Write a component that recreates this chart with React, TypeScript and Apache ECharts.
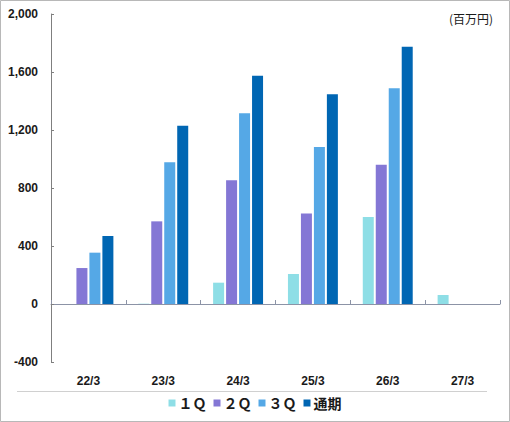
import React, { useEffect, useRef } from "react";
import * as echarts from "echarts";

const categories = ["22/3", "23/3", "24/3", "25/3", "26/3", "27/3"];
const q1 = [null, 2, 147, 207, 600, 62];
const q2 = [248, 570, 853, 625, 961, null];
const q3 = [354, 977, 1315, 1083, 1488, null];
const fullYear = [469, 1230, 1575, 1446, 1775, null];
const seriesNames = ["１Ｑ", "２Ｑ", "３Ｑ", "通期"];
const seriesColors = ["#8EDEE6", "#8477D5", "#55A8E6", "#0066B3"];
const unitLabel = "(百万円)";

export default function App() {
  const ref = useRef<HTMLDivElement>(null);
  useEffect(() => {
    document.body.style.margin = "0";
    const chart = echarts.init(ref.current!, null, { renderer: "svg" });
    const values = [q1, q2, q3, fullYear];
    chart.setOption({
      animation: false,
      backgroundColor: "#ffffff",
      textStyle: { fontFamily: "Liberation Sans, Arial, sans-serif" },
      grid: { left: 51, top: 14, right: 10, bottom: 60, containLabel: false },
      legend: {
        bottom: 7,
        left: "center",
        itemWidth: 7,
        itemHeight: 7,
        itemGap: 7,
        icon: "rect",
        textStyle: {
          fontSize: 14,
          fontWeight: "bold",
          color: "#1a1a1a",
          padding: [0, 0, 0, -2],
          fontFamily: "Noto Sans CJK JP, sans-serif",
        },
        data: seriesNames,
      },
      xAxis: [
        {
          type: "category",
          data: categories,
          axisLine: { onZero: true, lineStyle: { color: "#8C93A6", width: 1 } },
          axisTick: { show: true, inside: true, length: 4, lineStyle: { color: "#8C93A6" } },
          axisLabel: { show: false },
          splitLine: { show: false },
        },
        {
          type: "category",
          data: categories,
          position: "bottom",
          axisLine: { show: false, onZero: false },
          axisTick: { show: false },
          axisLabel: {
            show: true,
            margin: 13,
            fontSize: 12,
            fontWeight: "bold",
            color: "#1a1a1a",
          },
          splitLine: { show: false },
        },
      ],
      yAxis: {
        type: "value",
        min: -400,
        max: 2000,
        interval: 400,
        axisLine: { show: true, lineStyle: { color: "#7F7F7F" } },
        axisTick: { show: true, inside: true, length: 3, lineStyle: { color: "#7F7F7F" } },
        axisLabel: { margin: 13, fontSize: 12, fontWeight: "bold", color: "#1a1a1a" },
        splitLine: { show: false },
      },
      series: seriesNames.map((name, i) => ({
        name,
        type: "bar",
        xAxisIndex: 0,
        data: values[i],
        barWidth: 11,
        barGap: "18%",
        itemStyle: { color: seriesColors[i] },
      })),
      graphic: [
        {
          type: "rect",
          shape: { x: 0.5, y: 0.5, width: 509, height: 421 },
          style: { fill: "none", stroke: "#B8B8B8", lineWidth: 1 },
          silent: true,
        },
        {
          type: "line",
          shape: { x1: 17, y1: 391.5, x2: 487, y2: 391.5 },
          style: { stroke: "#D0D0D0", lineWidth: 1 },
          silent: true,
        },
        {
          type: "text",
          x: 493,
          y: 18,
          style: {
            text: unitLabel,
            align: "right",
            verticalAlign: "middle",
            fontSize: 12,
            fill: "#1a1a1a",
            fontFamily: "Noto Sans CJK JP, sans-serif",
          },
        },
      ],
    });
    return () => chart.dispose();
  }, []);
  return <div ref={ref} style={{ width: 510, height: 422 }} />;
}
